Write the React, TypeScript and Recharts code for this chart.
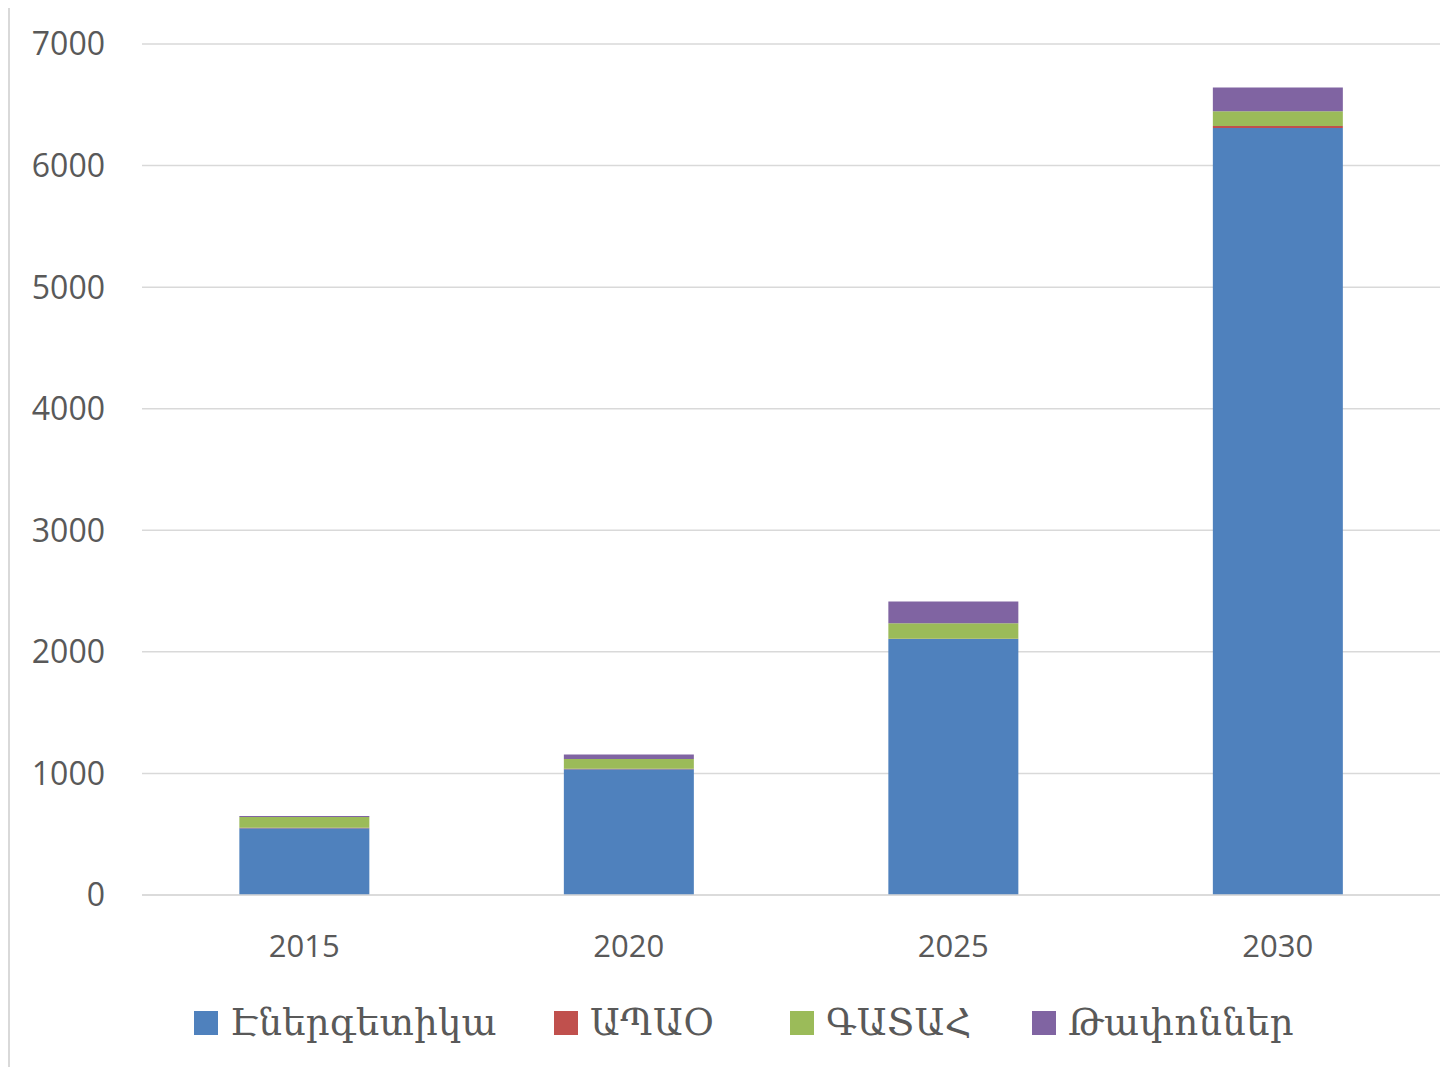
import React from "react";
import { BarChart, Bar, XAxis, YAxis, CartesianGrid, Legend } from "recharts";

const years = ["2015", "2020", "2025", "2030"];
const energy = [550, 1035, 2105, 6310];
const apao = [3, 3, 3, 15];
const gatsah = [88, 80, 128, 122];
const waste = [9, 37, 178, 195];
const yTicks = [0, 1000, 2000, 3000, 4000, 5000, 6000, 7000];

const seriesNames = ["Էներգետիկա", "ԱՊԱՕ", "ԳԱՏԱՀ", "Թափոններ"];
const seriesColors = ["#4f81bd", "#c0504d", "#9bbb59", "#8064a2"];
const seriesKeys = ["energy", "apao", "gatsah", "waste"];

const data = years.map((y, i) => ({
  year: y,
  energy: energy[i],
  apao: apao[i],
  gatsah: gatsah[i],
  waste: waste[i],
}));

const legendX = [186, 546, 782, 1024];

const LegendContent = () => (
  <div style={{ position: "relative", width: 1440, height: 50, top: 3 }}>
    {seriesNames.map((n, i) => (
      <div
        key={n}
        style={{
          position: "absolute",
          left: legendX[i],
          top: 0,
          display: "flex",
          alignItems: "center",
          whiteSpace: "nowrap",
        }}
      >
        <span
          style={{
            display: "inline-block",
            width: 24,
            height: 24,
            background: seriesColors[i],
            marginRight: 12,
          }}
        />
        <span
          style={{
            fontFamily: "'DejaVu Serif', serif",
            fontSize: 37,
            color: "#595959",
            lineHeight: "50px",
            letterSpacing: 0.3,
          }}
        >
          {n}
        </span>
      </div>
    ))}
  </div>
);

export default function App() {
  return (
    <div style={{ position: "relative", width: 1445, height: 1059 }}>
      <BarChart
        width={1445}
        height={1059}
        data={data}
        margin={{ top: 36, right: 13, bottom: 0, left: 0 }}
        barCategoryGap="30%"
      >
        <CartesianGrid vertical={false} stroke="#d9d9d9" strokeWidth={1.5} />
        <XAxis
          dataKey="year"
          axisLine={{ stroke: "#d9d9d9", strokeWidth: 1.5 }}
          tickLine={false}
          tickSize={0}
          tickMargin={40}
          height={100}
          tick={{ fill: "#595959", fontSize: 31, fontFamily: "'Open Sans', sans-serif" }}
        />
        <YAxis
          width={134}
          domain={[0, 7000]}
          ticks={yTicks}
          axisLine={false}
          tickLine={false}
          tickSize={0}
          tickMargin={37}
          tick={{ fill: "#595959", fontSize: 32, fontFamily: "'Open Sans', sans-serif" }}
        />
        <Legend verticalAlign="bottom" height={72} content={<LegendContent />} />
        {seriesKeys.map((k, i) => (
          <Bar
            key={k}
            dataKey={k}
            name={seriesNames[i]}
            stackId="a"
            fill={seriesColors[i]}
            isAnimationActive={false}
          />
        ))}
      </BarChart>
      <div
        style={{
          position: "absolute",
          left: 0,
          top: -2,
          width: 1460,
          height: 1070,
          border: "2px solid #d9d9d9",
          boxSizing: "border-box",
          pointerEvents: "none",
          zIndex: 5,
        }}
      />
    </div>
  );
}
